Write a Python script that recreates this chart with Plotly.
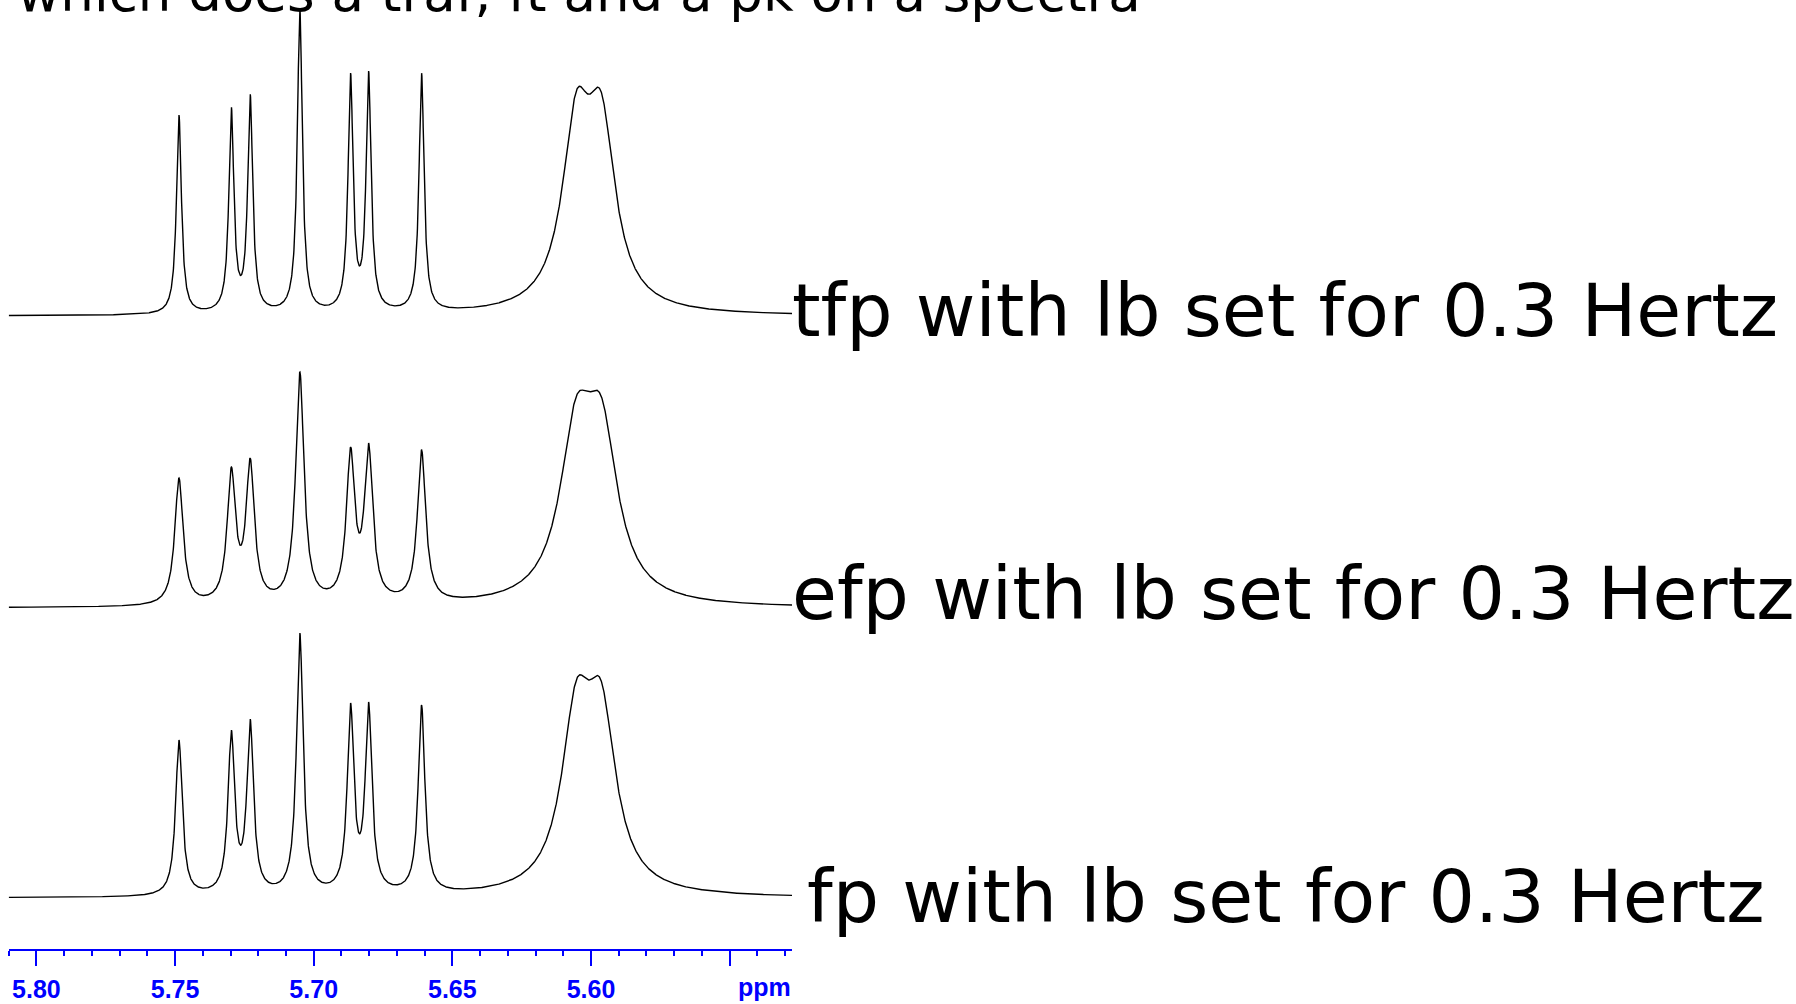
import numpy as np
import plotly.graph_objects as go

# ---------------- data ----------------
# chemical shifts (ppm) of the resolved lines (shared by the three traces)
sharp_ppm = [5.7486, 5.7297, 5.7229, 5.7050, 5.6867, 5.6802, 5.6611]
# the broad multiplet near 5.60 ppm (two unresolved components)
broad_ppm_tfp = [5.6053, 5.5963]
broad_ppm_efp = [5.6054, 5.5962]
broad_ppm_fp = [5.6053, 5.5963]

# observed peak heights above each baseline (arbitrary units)
tfp_heights = [201, 209, 222, 307, 243, 245, 243, 225, 224]
efp_heights = [130, 141, 150, 236, 161, 165, 158, 211, 211]
fp_heights = [158, 168, 179, 265, 195, 196, 193, 218, 217]

# half widths at half height (ppm): sharp lines, broad multiplet
tfp_hw = [0.00108, 0.00614]
efp_hw = [0.00181, 0.00705]
fp_hw = [0.00144, 0.00640]

# vertical offsets of the stacked traces (arbitrary units)
baseline_offsets = {"tfp": 633, "efp": 341, "fp": 51}

trace_labels = {
    "tfp": "tfp with lb set for 0.3 Hertz",
    "efp": "efp with lb set for 0.3 Hertz",
    "fp": "fp with lb set for 0.3 Hertz",
}
title_text = "which does a traf, ft and a pk on a spectra"

major_ticks = [5.80, 5.75, 5.70, 5.65, 5.60, 5.55]
major_text = ["5.80", "5.75", "5.70", "5.65", "5.60", ""]
minor_ticks = [5.81, 5.79, 5.78, 5.77, 5.76, 5.74, 5.73, 5.72, 5.71, 5.69, 5.68,
               5.67, 5.66, 5.64, 5.63, 5.62, 5.61, 5.59, 5.58, 5.57, 5.56, 5.54, 5.53]
ppm_range = [5.81, 5.5275]

# ---------------- build line shapes ----------------
W, H = 1796, 1004
x = np.linspace(ppm_range[0], ppm_range[1], 3000)


def spectrum(centers, heights, hws):
    c = np.array(centers)
    w = np.array([hws[0]] * 7 + [hws[1]] * 2)
    # Lorentzian matrix at the peak positions -> amplitudes that reproduce the heights
    M = 1.0 / (1.0 + ((c[:, None] - c[None, :]) / w[None, :]) ** 2)
    amps = np.linalg.solve(M, np.array(heights, dtype=float))
    y = np.zeros_like(x)
    for a, cc, ww in zip(amps, c, w):
        y += a / (1.0 + ((x - cc) / ww) ** 2)
    return y


spectra = {
    "tfp": spectrum(sharp_ppm + broad_ppm_tfp, tfp_heights, tfp_hw),
    "efp": spectrum(sharp_ppm + broad_ppm_efp, efp_heights, efp_hw),
    "fp": spectrum(sharp_ppm + broad_ppm_fp, fp_heights, fp_hw),
}

fig = go.Figure()
for key, yy in spectra.items():
    fig.add_trace(go.Scatter(
        x=x, y=yy + baseline_offsets[key], mode="lines",
        line=dict(color="black", width=1.4), hoverinfo="skip", showlegend=False,
    ))

axis_bottom_px = 949
plot_left_px, plot_right_px = 8.7, 792

blue = "#0000ff"
fig.update_layout(
    width=W, height=H,
    margin=dict(l=0, r=0, t=0, b=0),
    paper_bgcolor="white", plot_bgcolor="white",
    showlegend=False,
    xaxis=dict(
        domain=[plot_left_px / W, plot_right_px / W],
        range=ppm_range,
        showgrid=False, zeroline=False,
        showline=True, linecolor=blue, linewidth=2,
        ticks="outside", ticklen=15, tickwidth=1.5, tickcolor=blue,
        tickmode="array", tickvals=major_ticks, ticktext=major_text,
        tickfont=dict(family="Liberation Sans", size=25, color=blue, weight="bold"),
        ticklabelstandoff=2,
        minor=dict(tickmode="array", tickvals=minor_ticks, ticks="outside",
                   ticklen=5, tickwidth=1.5, tickcolor=blue, showgrid=False),
    ),
    yaxis=dict(
        domain=[1 - axis_bottom_px / H, 1],
        range=[0, axis_bottom_px],
        visible=False, showgrid=False, zeroline=False,
    ),
)

label_font = dict(family="DejaVu Sans", size=73, color="black")
label_pos = {"tfp": (790, 311), "efp": (790, 593), "fp": (805, 896)}
for key, (px, py) in label_pos.items():
    fig.add_annotation(
        text=trace_labels[key], xref="paper", yref="paper",
        x=px / W, y=1 - py / H, xanchor="left", yanchor="middle",
        showarrow=False, font=label_font,
    )

fig.add_annotation(
    text="ppm", xref="x", yref="paper", x=5.5375, y=1 - 987 / H,
    xanchor="center", yanchor="middle", showarrow=False,
    font=dict(family="Liberation Sans", size=25, color=blue, weight="bold"),
)

fig.add_annotation(
    text=title_text, xref="paper", yref="paper", x=15 / W, y=1 + 8 / H,
    xanchor="left", yanchor="middle", showarrow=False,
    font=dict(family="DejaVu Sans", size=53, color="black"),
)

fig.write_html("out.html", config={"displayModeBar": False})
